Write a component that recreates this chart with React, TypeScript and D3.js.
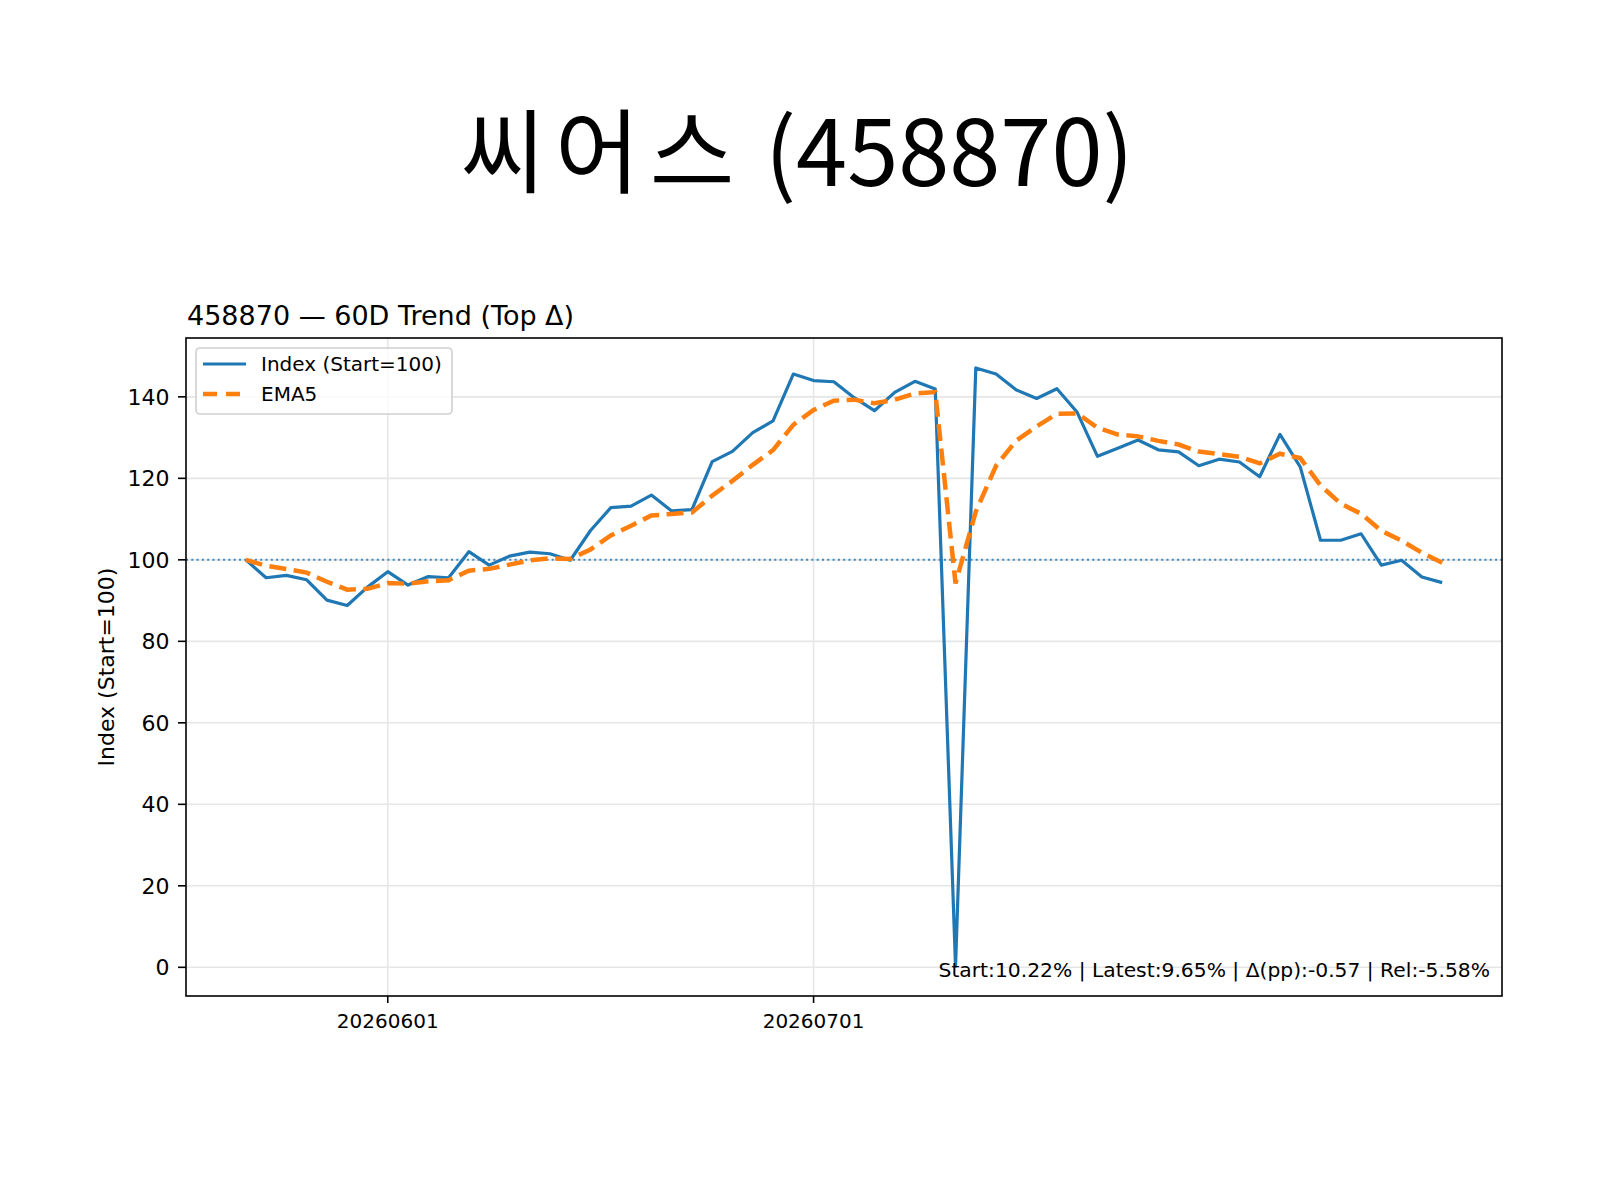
import { useEffect, useRef } from "react";
import * as d3 from "d3";

// Series (index rebased to 100, plus its EMA5)
const stockName = "씨어스";
const stockCode = "458870";

const indexValues = [
  100, 95.6, 96.2, 95.1, 90.1, 88.8, 93.3, 97.1, 93.8, 95.9,
  95.6, 102.0, 98.7, 100.9, 101.9, 101.5, 99.9, 107.2, 112.8, 113.2,
  115.9, 112.0, 112.3, 124.1, 126.6, 131.2, 134.1, 145.6, 144.0, 143.7,
  139.8, 136.6, 141.1, 143.8, 141.9, 0.3, 147.1, 145.6, 141.7, 139.6,
  142.0, 136.2, 125.4, 127.4, 129.4, 127.0, 126.5, 123.1, 124.7, 124.0,
  120.4, 130.8, 122.8, 104.8, 104.8, 106.4, 98.7, 99.9, 95.8, 94.4,
];

const ema5Values = [
  100, 98.53, 97.76, 96.87, 94.61, 92.67, 92.88, 94.29, 94.13, 94.72,
  95.01, 97.34, 97.79, 98.83, 99.85, 100.4, 100.23, 102.55, 105.97, 108.38,
  110.89, 111.26, 111.61, 115.77, 119.38, 123.32, 126.91, 133.14, 136.76, 139.07,
  139.31, 138.41, 139.31, 140.81, 141.17, 94.21, 111.84, 123.09, 129.29, 132.73,
  135.82, 135.95, 132.43, 130.75, 130.3, 129.2, 128.3, 126.57, 125.95, 125.3,
  123.67, 126.05, 124.97, 118.25, 113.77, 111.31, 107.11, 104.71, 101.74, 99.29,
];

const xTickIndex = [7, 28];
const xTickLabels = ["20260601", "20260701"];
const yTicks = [0, 20, 40, 60, 80, 100, 120, 140];
const statsText = "Start:10.22% | Latest:9.65% | Δ(pp):-0.57 | Rel:-5.58%";

const FONT = "'DejaVu Sans', sans-serif";

const App = () => {
  const svgRef = useRef<SVGSVGElement>(null);

  useEffect(() => {
    if (!svgRef.current) return;
    const svg = d3.select(svgRef.current);
    svg.selectAll("*").remove();

    const plot = { left: 186, top: 338, right: 1502, bottom: 996 };
    const n = indexValues.length;

    // matplotlib-like 5% margins
    const xPad = (n - 1) * 0.05;
    const x = d3
      .scaleLinear()
      .domain([-xPad, n - 1 + xPad])
      .range([plot.left, plot.right]);

    const lo = Math.min(d3.min(indexValues)!, d3.min(ema5Values)!);
    const hi = Math.max(d3.max(indexValues)!, d3.max(ema5Values)!);
    const yPad = (hi - lo) * 0.05;
    const y = d3
      .scaleLinear()
      .domain([lo - yPad, hi + yPad])
      .range([plot.bottom, plot.top]);

    // Suptitle (Hangul part spaced a little wider, like the source font)
    const sup = svg
      .append("text")
      .attr("x", 797)
      .attr("y", 186)
      .attr("text-anchor", "middle")
      .style("font-family", "'Noto Sans CJK KR', sans-serif")
      .style("font-size", "92px");
    sup.append("tspan").style("letter-spacing", "10px").text(stockName);
    sup.append("tspan").text(` (${stockCode})`);

    // Axes title
    svg
      .append("text")
      .attr("x", plot.left + 1)
      .attr("y", 325)
      .style("font-family", FONT)
      .style("font-size", "27px")
      .text(`${stockCode} — 60D Trend (Top Δ)`);

    // Grid
    const grid = svg.append("g").attr("stroke", "#e6e6e6").attr("stroke-width", 1.6);
    grid
      .selectAll("line.gy")
      .data(yTicks)
      .enter()
      .append("line")
      .attr("x1", plot.left)
      .attr("x2", plot.right)
      .attr("y1", (d) => y(d))
      .attr("y2", (d) => y(d));
    grid
      .selectAll("line.gx")
      .data(xTickIndex)
      .enter()
      .append("line")
      .attr("x1", (d) => x(d))
      .attr("x2", (d) => x(d))
      .attr("y1", plot.top)
      .attr("y2", plot.bottom);

    // Start=100 reference line
    svg
      .append("line")
      .attr("x1", plot.left)
      .attr("x2", plot.right)
      .attr("y1", y(100))
      .attr("y2", y(100))
      .attr("stroke", "#1f77b4")
      .attr("stroke-opacity", 0.85)
      .attr("stroke-width", 2)
      .attr("stroke-dasharray", "2 3.3");

    const line = d3
      .line<number>()
      .x((_, i) => x(i))
      .y((d) => y(d));

    svg
      .append("path")
      .attr("d", line(indexValues))
      .attr("fill", "none")
      .attr("stroke", "#1f77b4")
      .attr("stroke-width", 3.2)
      .attr("stroke-linejoin", "round");

    svg
      .append("path")
      .attr("d", line(ema5Values))
      .attr("fill", "none")
      .attr("stroke", "#ff7f0e")
      .attr("stroke-width", 4.5)
      .attr("stroke-dasharray", "17 7.5");

    // Spines
    svg
      .append("rect")
      .attr("x", plot.left)
      .attr("y", plot.top)
      .attr("width", plot.right - plot.left)
      .attr("height", plot.bottom - plot.top)
      .attr("fill", "none")
      .attr("stroke", "#000")
      .attr("stroke-width", 1.6);

    // Y ticks
    const yAxis = svg.append("g");
    yTicks.forEach((t) => {
      yAxis
        .append("line")
        .attr("x1", plot.left - 8)
        .attr("x2", plot.left)
        .attr("y1", y(t))
        .attr("y2", y(t))
        .attr("stroke", "#000")
        .attr("stroke-width", 1.6);
      yAxis
        .append("text")
        .attr("x", 169.5)
        .attr("y", y(t))
        .attr("dy", "0.36em")
        .attr("text-anchor", "end")
        .style("font-family", FONT)
        .style("font-size", "22px")
        .text(t);
    });

    // X ticks
    const xAxis = svg.append("g");
    xTickIndex.forEach((t, i) => {
      xAxis
        .append("line")
        .attr("x1", x(t))
        .attr("x2", x(t))
        .attr("y1", plot.bottom)
        .attr("y2", plot.bottom + 7)
        .attr("stroke", "#000")
        .attr("stroke-width", 1.6);
      xAxis
        .append("text")
        .attr("x", x(t))
        .attr("y", 1027.5)
        .attr("text-anchor", "middle")
        .style("font-family", FONT)
        .style("font-size", "20px")
        .text(xTickLabels[i]);
    });

    // Y label
    svg
      .append("text")
      .attr("transform", `translate(114, ${(plot.top + plot.bottom) / 2}) rotate(-90)`)
      .attr("text-anchor", "middle")
      .style("font-family", FONT)
      .style("font-size", "22px")
      .text("Index (Start=100)");

    // Legend
    const legend = svg.append("g");
    legend
      .append("rect")
      .attr("x", 196)
      .attr("y", 348)
      .attr("width", 256)
      .attr("height", 66)
      .attr("rx", 4)
      .attr("fill", "#fff")
      .attr("fill-opacity", 0.8)
      .attr("stroke", "#d0d0d0")
      .attr("stroke-width", 1.6);
    const items = [
      { label: "Index (Start=100)", color: "#1f77b4", width: 3.2, dash: null, y: 364 },
      { label: "EMA5", color: "#ff7f0e", width: 4.5, dash: "14 9", y: 394 },
    ];
    items.forEach((it) => {
      legend
        .append("line")
        .attr("x1", 203)
        .attr("x2", 246)
        .attr("y1", it.y)
        .attr("y2", it.y)
        .attr("stroke", it.color)
        .attr("stroke-width", it.width)
        .attr("stroke-dasharray", it.dash);
      legend
        .append("text")
        .attr("x", 261)
        .attr("y", it.y)
        .attr("dy", "0.36em")
        .style("font-family", FONT)
        .style("font-size", "20px")
        .text(it.label);
    });

    // Stats annotation
    svg
      .append("text")
      .attr("x", 1490)
      .attr("y", 977)
      .attr("text-anchor", "end")
      .style("font-family", FONT)
      .style("font-size", "20.3px")
      .text(statsText);
  }, []);

  return (
    <svg
      ref={svgRef}
      width={1598}
      height={1198}
      style={{ position: "absolute", left: 0, top: 0, background: "#fff" }}
    />
  );
};

export default App;
